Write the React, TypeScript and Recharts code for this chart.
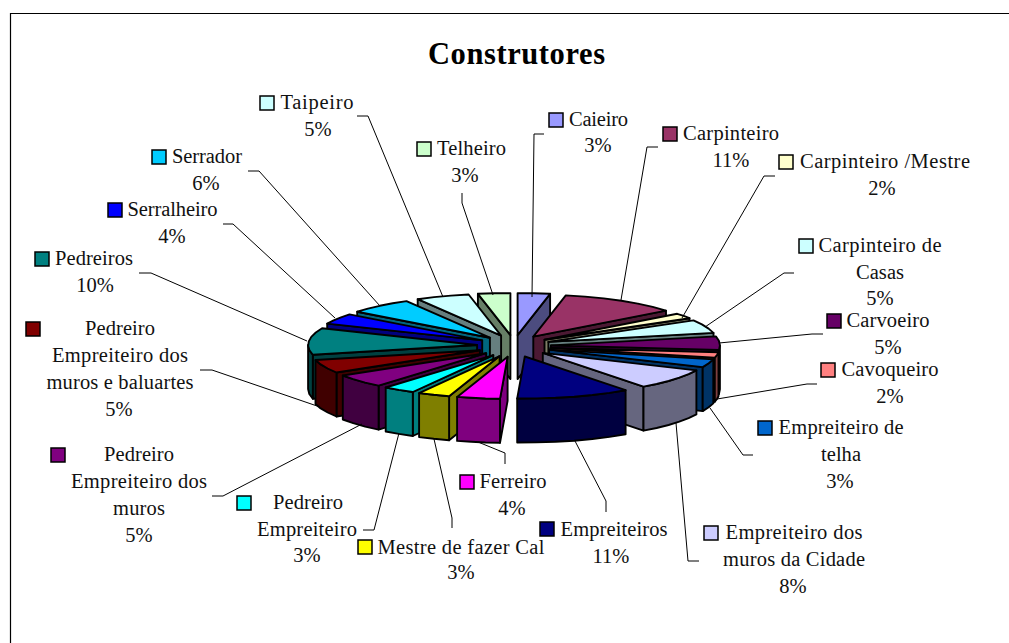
import { Pie, PieChart } from "recharts"

const SERIF = "'Liberation Serif', serif"

const categories = [
  "Caieiro", "Carpinteiro", "Carpinteiro /Mestre", "Carpinteiro de Casas", "Carvoeiro", "Cavoqueiro",
  "Empreiteiro de telha", "Empreiteiro dos muros da Cidade", "Empreiteiros", "Ferreiro", "Mestre de fazer Cal",
  "Pedreiro Empreiteiro", "Pedreiro Empreiteiro dos muros", "Pedreiro Empreiteiro dos muros e baluartes",
  "Pedreiros", "Serralheiro", "Serrador", "Taipeiro", "Telheiro",
]
const shares = [3, 11, 2, 5, 5, 2, 3, 7.8, 10.6, 4, 3, 3, 5, 5, 10, 4, 6, 5, 3]
const colors = [
  "#9999ff", "#993366", "#ffffcc", "#ccffff", "#660066", "#ff8080", "#0066cc", "#ccccff", "#000080", "#ff00ff",
  "#ffff00", "#00ffff", "#800080", "#800000", "#008080", "#0000ff", "#00ccff", "#ccffff", "#ccffcc",
]

const rows = categories.map((name, i) => ({ name, value: shares[i], color: colors[i] }))
// painted back to front: right half from the top, then left half from the top
const rightHalf = rows.slice(0, 9)
const leftHalf = rows.slice(9).reverse()
const total = shares.reduce((a, b) => a + b, 0)
const rightSweep = (360 * rightHalf.reduce((a, r) => a + r.value, 0)) / total
const leftSweep = 360 - rightSweep

// where each callout sits: swatch, wrapped text lines [text, centre x, mid y, width], leader line
type Callout = { box: number[]; lines: [string, number, number, number][]; pct: number[]; leader: number[][] }
const callouts: Record<string, Callout> = {
  Caieiro: { box: [556, 120], lines: [["Caieiro", 598.5, 119, 59]], pct: [598, 145], leader: [[544, 134], [534, 134], [532, 297]] },
  Carpinteiro: { box: [670, 134], lines: [["Carpinteiro", 731, 133, 96]], pct: [731, 160], leader: [[658, 147], [647, 147], [621, 300]] },
  "Carpinteiro /Mestre": { box: [786, 162], lines: [["Carpinteiro /Mestre", 885, 161, 170]], pct: [882, 188], leader: [[775, 176], [764, 176], [682, 318]] },
  "Carpinteiro de Casas": { box: [806, 246], lines: [["Carpinteiro de", 880, 245, 123], ["Casas", 880, 272, 48]], pct: [880, 298], leader: [[794, 273], [784, 273], [705, 327]] },
  Carvoeiro: { box: [834, 321], lines: [["Carvoeiro", 888, 320, 83]], pct: [888, 347], leader: [[823, 334], [812, 334], [719, 343]] },
  Cavoqueiro: { box: [828, 370], lines: [["Cavoqueiro", 890, 369, 97]], pct: [890, 396], leader: [[817, 384], [807, 384], [717, 399]] },
  "Empreiteiro de telha": { box: [765, 428], lines: [["Empreiteiro de", 841, 427, 125], ["telha", 841, 454, 40]], pct: [840, 481], leader: [[753, 455], [743, 455], [710, 408]] },
  "Empreiteiro dos muros da Cidade": { box: [711, 533], lines: [["Empreiteiro dos", 794, 532, 137], ["muros da Cidade", 794, 559, 142]], pct: [793, 586], leader: [[699, 561], [688, 561], [676, 423]] },
  Empreiteiros: { box: [547, 529], lines: [["Empreiteiros", 614, 529, 107]], pct: [611, 556], leader: [[606, 512], [606, 501], [575, 441]] },
  Ferreiro: { box: [467, 482], lines: [["Ferreiro", 513, 481, 67]], pct: [512, 508], leader: [[505, 464], [505, 453], [478, 442]] },
  "Mestre de fazer Cal": { box: [365, 547], lines: [["Mestre de fazer Cal", 461, 547, 167]], pct: [461, 572], leader: [[452, 528], [452, 518], [434, 439]] },
  "Pedreiro Empreiteiro": { box: [244, 503], lines: [["Pedreiro", 308, 502, 70], ["Empreiteiro", 307, 529, 100]], pct: [307, 555], leader: [[363, 530], [374, 530], [399, 433]] },
  "Pedreiro Empreiteiro dos muros": { box: [58, 455], lines: [["Pedreiro", 139, 454, 70], ["Empreiteiro dos", 139, 481, 136], ["muros", 139, 508, 52]], pct: [139, 535], leader: [[212, 496], [223, 496], [362, 424]] },
  "Pedreiro Empreiteiro dos muros e baluartes": { box: [33, 329], lines: [["Pedreiro", 120, 328, 70], ["Empreiteiro dos", 120, 355, 136], ["muros e baluartes", 120, 382, 147]], pct: [119, 409], leader: [[200, 370], [212, 370], [320, 407]] },
  Pedreiros: { box: [42, 259], lines: [["Pedreiros", 94, 258, 78]], pct: [95, 285], leader: [[139, 273], [151, 273], [307, 341]] },
  Serralheiro: { box: [115, 210], lines: [["Serralheiro", 172.5, 209, 90]], pct: [172, 236], leader: [[223, 224], [233, 224], [335, 318]] },
  Serrador: { box: [159, 157], lines: [["Serrador", 207, 156, 70]], pct: [206, 183], leader: [[248, 171], [259, 171], [380, 306]] },
  Taipeiro: { box: [267, 103], lines: [["Taipeiro", 317, 102, 73]], pct: [318, 129], leader: [[357, 116], [368, 116], [443, 297]] },
  Telheiro: { box: [424, 149], lines: [["Telheiro", 471.5, 148, 69]], pct: [465, 175], leader: [[462, 193], [462, 203], [493, 295]] },
}

const TILT = 0.2485
const DEPTH = 44
const EXPLODE_X = 37
const EXPLODE_Y = 11
const OUTLINE = { stroke: "#000", strokeWidth: 1.9, strokeLinejoin: "round" as const }

const rad = (d: number) => (d * Math.PI) / 180

function darken(hex: string) {
  const n = parseInt(hex.slice(1), 16)
  const half = (v: number) => (v >> 1).toString(16).padStart(2, "0")
  return `#${half((n >> 16) & 255)}${half((n >> 8) & 255)}${half(n & 255)}`
}

const toPath = (pts: number[][]) => pts.map((p) => `${p[0].toFixed(1)},${p[1].toFixed(1)}`).join(" ")

// tilted, pulled-out slice drawn from the angles the Pie worked out
function Slice3D(props: any) {
  const { cx, cy, outerRadius, startAngle, endAngle, payload } = props
  const from = 90 - startAngle
  const to = 90 - endAngle
  const mid = (from + to) / 2
  const ax = cx + EXPLODE_X * Math.sin(rad(mid))
  const ay = cy - EXPLODE_Y * Math.cos(rad(mid))
  const rim = (t: number) => [ax + outerRadius * Math.sin(rad(t)), ay - outerRadius * TILT * Math.cos(rad(t))]
  const arc = (a: number, b: number) => {
    const n = Math.max(1, Math.ceil(Math.abs(b - a) / 7))
    return Array.from({ length: n + 1 }, (_, i) => rim(a + ((b - a) * i) / n))
  }
  const drop = (pts: number[][]) => pts.map((p) => [p[0], p[1] + DEPTH])
  const dark = darken(payload.color)

  const walls: number[][][] = []
  const dir = Math.sign(to - from)
  if (dir * Math.sin(rad(to)) > 0) {
    const edge = rim(to)
    walls.push([[ax, ay], edge, [edge[0], edge[1] + DEPTH], [ax, ay + DEPTH]])
  }
  const lo = Math.min(from, to) < 0 ? Math.min(from, to) + 360 : Math.min(from, to)
  const hi = Math.min(from, to) < 0 ? Math.max(from, to) + 360 : Math.max(from, to)
  const a = Math.max(lo, 90)
  const b = Math.min(hi, 270)
  if (b > a) {
    const top = arc(a, b)
    walls.push([...top, ...drop(top).reverse()])
  }

  return (
    <g>
      {walls.map((w, i) => (
        <polygon key={i} points={toPath(w)} fill={dark} {...OUTLINE} />
      ))}
      <polygon points={toPath([[ax, ay], ...arc(from, to)])} fill={payload.color} {...OUTLINE} />
    </g>
  )
}

function renderCallout(props: any) {
  const row = props.payload
  const c = callouts[row.name]
  const textProps = { fontFamily: SERIF, fontSize: 20.5, fill: "#111", textAnchor: "middle" as const }
  return (
    <g key={row.name}>
      <polyline points={toPath(c.leader)} fill="none" stroke="#000" strokeWidth={1} />
      <rect x={c.box[0] - 7} y={c.box[1] - 7} width={14} height={14} fill={row.color} stroke="#000" strokeWidth={1.5} />
      {c.lines.map(([t, x, y, w]) => (
        <text key={t} x={x} y={y + 7} textLength={w} lengthAdjust="spacing" {...textProps}>{t}</text>
      ))}
      <text x={c.pct[0]} y={c.pct[1] + 7} {...textProps}>{`${Math.round(row.value)}%`}</text>
    </g>
  )
}

export default function App() {
  return (
    <div style={{ position: "absolute", left: 0, top: 0, width: 1009, height: 643, background: "#fff" }}>
      <PieChart width={1009} height={643} margin={{ top: 0, right: 0, bottom: 0, left: 0 }}>
        <path d="M10.5 643 V13.5 H1009" fill="none" stroke="#000" strokeWidth={1.2} />
        <text x={516.5} y={64} textAnchor="middle" textLength={177} lengthAdjust="spacing" fontFamily={SERIF} fontWeight="bold" fontSize={30.5} fill="#000">
          Construtores
        </text>
        <Pie
          data={rightHalf}
          dataKey="value"
          cx={514}
          cy={346}
          outerRadius={169}
          startAngle={90}
          endAngle={90 - rightSweep}
          shape={Slice3D}
          label={renderCallout}
          labelLine={false}
          isAnimationActive={false}
        />
        <Pie
          data={leftHalf}
          dataKey="value"
          cx={514}
          cy={346}
          outerRadius={169}
          startAngle={90}
          endAngle={90 + leftSweep}
          shape={Slice3D}
          label={renderCallout}
          labelLine={false}
          isAnimationActive={false}
        />
      </PieChart>
    </div>
  )
}
